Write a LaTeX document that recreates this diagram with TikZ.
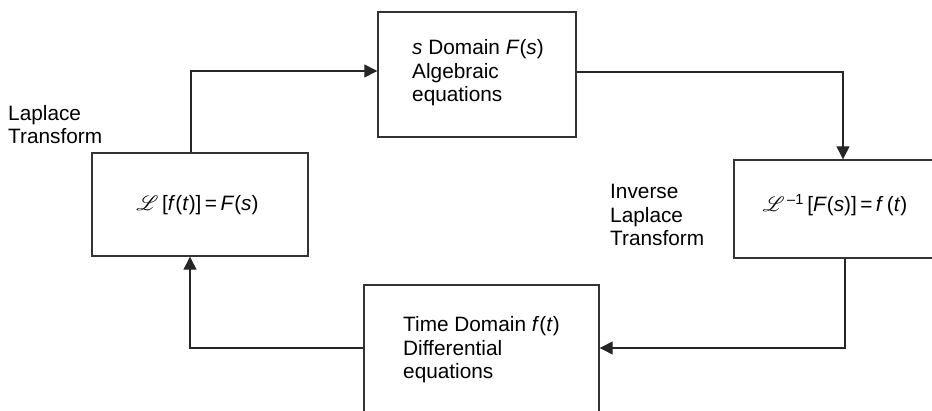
\documentclass[tikz,border=0pt]{standalone}
\usepackage{fontspec}
\setmainfont{Liberation Sans}
\usepackage{mathrsfs}
\usetikzlibrary{arrows.meta}
\tikzset{
  boxnode/.style={draw=black!80, line width=1.4pt, rectangle, inner sep=0pt},
  conn/.style={draw=black!85, line width=1.3pt},
  arr/.style={conn, -{Triangle[length=13pt,width=13pt]}},
  txt/.style={anchor=base west, inner sep=0pt, align=left, font=\fontsize{20.8}{23.5}\selectfont},
}
\begin{document}
\begin{tikzpicture}[x=1pt,y=-1pt]
\useasboundingbox (0,0) rectangle (932,411);
\clip (0,0) rectangle (932,411);
% boxes
\node[boxnode, minimum width=216pt, minimum height=103pt] (L) at (200,204.5) {};
\node[boxnode, minimum width=198pt, minimum height=125pt] (T) at (477,74.5) {};
\node[boxnode, minimum width=202pt, minimum height=98pt] (R) at (835,209) {};
\node[boxnode, minimum width=235pt, minimum height=155pt] (B) at (481.5,362.5) {};
% texts (anchor = baseline of last line)
\node[txt] (lt) at (8,144) {Laplace\\Transform};
\node[txt, anchor=center] (lf) at (197.5,205) {$\mathscr{L}$\,[\textit{f}(\textit{t})]\,=\,\textit{F}(\textit{s})};
\node[txt] (tt) at (412,102) {\textit{s} Domain \textit{F}(\textit{s})\\Algebraic\\equations};
\node[txt] (it) at (610,246) {Inverse\\Laplace\\Transform};
\node[txt, anchor=center] (rf) at (835,205) {$\mathscr{L}$\textsuperscript{\,--1}\,[\textit{F}(\textit{s})]\,=\,\textit{f}\,(\textit{t})};
\node[txt] (bt) at (403,379) {Time Domain \textit{f}(\textit{t})\\Differential\\equations};
% connectors
\coordinate (c1) at (191,71);
\coordinate (c2) at (843,72);
\coordinate (c3) at (845,348);
\coordinate (c4) at (190,348);
\draw[arr] (L.north -| c1) -- (c1) -- (c1 -| T.west);
\draw[arr] (T.east |- c2) -- (c2) -- (c2 |- R.north);
\draw[arr] (R.south -| c3) -- (c3) -- (c3 -| B.east);
\draw[arr] (B.west |- c4) -- (c4) -- (c4 |- L.south);
\end{tikzpicture}
\end{document}
